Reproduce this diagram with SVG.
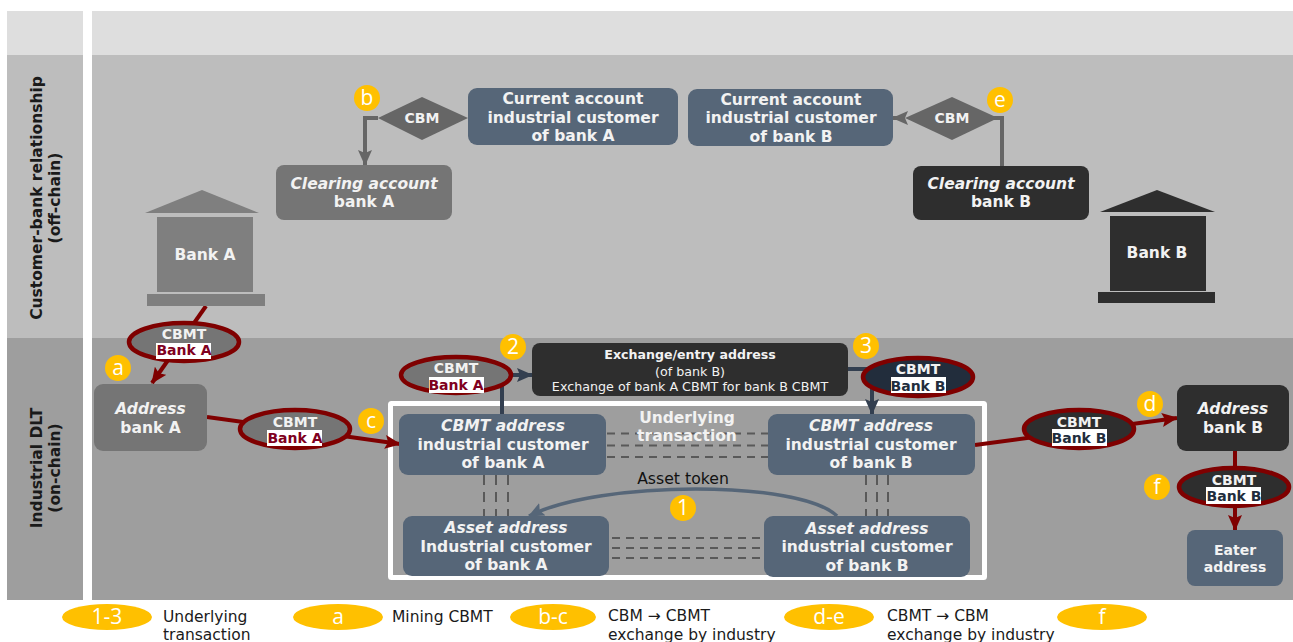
<svg xmlns="http://www.w3.org/2000/svg" width="1293" height="642" viewBox="0 0 1293 642">
<style>
text{font-family:"DejaVu Sans",Verdana,sans-serif;text-anchor:middle}
.n{font-size:15.500px;font-weight:bold;fill:#f2f2f2}
.i{font-style:italic}
.c{font-size:14px;font-weight:bold;fill:#f2f2f2}
.bt{font-size:14px;font-weight:bold}
.y{fill:#ffc000}
.yt{font-family:"Open Sans",sans-serif;font-size:21px;fill:#fff}
.lg{font-size:15.500px;fill:#1a1a1a;text-anchor:start}
.side{font-size:15.500px;font-weight:bold;fill:#1a1a1a}
.red{fill:none;stroke:#7f0000;stroke-width:4}
.dash{fill:none;stroke:#595959;stroke-width:2;stroke-dasharray:8 6}
.vdash{fill:none;stroke:#595959;stroke-width:2;stroke-dasharray:10 7}
.el{stroke:#7f0000;stroke-width:4.500}
</style>
<defs>
<marker id="ar" markerUnits="userSpaceOnUse" markerWidth="16" markerHeight="14" refX="15" refY="7" orient="auto"><path d="M0 0L16 7L0 14L3 7Z" fill="#7f0000"/></marker>
<marker id="ad" markerUnits="userSpaceOnUse" markerWidth="16" markerHeight="14" refX="15" refY="7" orient="auto"><path d="M0 0L16 7L0 14L3 7Z" fill="#333f50"/></marker>
<marker id="ag" markerUnits="userSpaceOnUse" markerWidth="16" markerHeight="14" refX="15" refY="7" orient="auto"><path d="M0 0L16 7L0 14L3 7Z" fill="#666"/></marker>
<marker id="as" markerUnits="userSpaceOnUse" markerWidth="16" markerHeight="14" refX="15" refY="7" orient="auto"><path d="M0 0L16 7L0 14L3 7Z" fill="#566678"/></marker>
</defs>
<rect width="1293" height="642" fill="#fff"/>
<g id="bands">
<rect x="7" y="11" width="76" height="44" fill="#dedede"/>
<rect x="92" y="11" width="1201" height="44" fill="#dedede"/>
<rect x="7" y="55" width="76" height="283" fill="#bdbdbd"/>
<rect x="92" y="55" width="1201" height="283" fill="#bdbdbd"/>
<rect x="7" y="338" width="76" height="262" fill="#9e9e9e"/>
<rect x="92" y="338" width="1201" height="262" fill="#9e9e9e"/>
<text transform="translate(42 198) rotate(-90)" class="side">Customer-bank relationship</text>
<text transform="translate(60 198) rotate(-90)" class="side">(off-chain)</text>
<text transform="translate(42 468) rotate(-90)" class="side">Industrial DLT</text>
<text transform="translate(60 468) rotate(-90)" class="side">(on-chain)</text>
</g>
<g id="underlying-frame"><rect x="390.500" y="403.500" width="594" height="174" fill="none" stroke="#fff" stroke-width="5" rx="1"/></g>
<g id="connectors">
<path class="dash" d="M607 433.500H768M607 445.500H768M607 457H768"/>
<path class="vdash" d="M484 475V516M496 475V516M508 475V516"/>
<path class="vdash" d="M866 475V516M877 475V516M888 475V516"/>
<path class="dash" d="M612 538H765M612 548H765M612 558H765"/>
<path d="M837 516C800 480 600 480 529 516" fill="none" stroke="#566678" stroke-width="3.500" marker-end="url(#as)"/>
<path d="M378 118H365V165" fill="none" stroke="#666" stroke-width="4" marker-end="url(#ag)"/>
<path d="M1002 166V118H990" fill="none" stroke="#666" stroke-width="4"/>
<path d="M905 118H893" fill="none" stroke="#666" stroke-width="4" marker-end="url(#ag)"/>
<path class="red" d="M206 306L152 383" marker-end="url(#ar)"/>
<path class="red" d="M207 417L400 444" marker-end="url(#ar)"/>
<path d="M502 414V375H532" fill="none" stroke="#333f50" stroke-width="4" marker-end="url(#ad)"/>
<path d="M848 369H872V414" fill="none" stroke="#333f50" stroke-width="4" marker-end="url(#ad)"/>
<path class="red" d="M975 445L1177 418" marker-end="url(#ar)"/>
<path class="red" d="M1235 450V530" marker-end="url(#ar)"/>
</g>
<g id="bank-a"><path d="M145 213L202 190L259 213Z" fill="#7f7f7f"/><rect x="157" y="217" width="96" height="75" fill="#7f7f7f"/><rect x="147" y="294" width="118" height="12" fill="#7f7f7f"/><text x="205" y="260" class="n">Bank A</text></g>
<g id="bank-b"><path d="M1100 212L1157 190L1215 212Z" fill="#2e2e2e"/><rect x="1110" y="216" width="96" height="75" fill="#2e2e2e"/><rect x="1098" y="292" width="117" height="11" fill="#2e2e2e"/><text x="1157" y="258" class="n">Bank B</text></g>
<g id="cbm-a"><path d="M378 118L422 97L468 118L422 140Z" fill="#666"/><text x="422" y="123" class="c">CBM</text></g>
<g id="cbm-b"><path d="M905 118L952 97L998 118L952 140Z" fill="#666"/><text x="952" y="123" class="c">CBM</text></g>
<g id="current-a"><rect x="468" y="88" width="210" height="57" rx="9" fill="#566678"/><text class="n" x="573" y="104">Current account</text><text class="n" x="573" y="123">industrial customer</text><text class="n" x="573" y="141">of bank A</text></g>
<g id="current-b"><rect x="688" y="89" width="205" height="57" rx="9" fill="#566678"/><text class="n" x="791" y="105">Current account</text><text class="n" x="791" y="123">industrial customer</text><text class="n" x="791" y="142">of bank B</text></g>
<g id="clearing-a"><rect x="276" y="165" width="176" height="55" rx="8" fill="#757575"/><text class="n i" x="364" y="189">Clearing account</text><text class="n" x="364" y="207">bank A</text></g>
<g id="clearing-b"><rect x="913" y="166" width="176" height="54" rx="8" fill="#2e2e2e"/><text class="n i" x="1001" y="189">Clearing account</text><text class="n" x="1001" y="207">bank B</text></g>
<g id="address-a"><rect x="94" y="384" width="113" height="67" rx="9" fill="#757575"/><text class="n i" x="150.500" y="414">Address</text><text class="n" x="150.500" y="433">bank A</text></g>
<g id="address-b"><rect x="1177" y="385" width="112" height="66" rx="9" fill="#2e2e2e"/><text class="n i" x="1233" y="414">Address</text><text class="n" x="1233" y="433">bank B</text></g>
<g id="exchange"><rect x="532" y="343" width="316" height="53" rx="8" fill="#2e2e2e"/><text x="690" y="359" style="font-size:12.600px;font-weight:bold" fill="#f2f2f2">Exchange/entry address</text><text x="690" y="376" style="font-size:12.700px" fill="#f2f2f2">(of bank B)</text><text x="690" y="391" style="font-size:12.700px" fill="#f2f2f2">Exchange of bank A CBMT for bank B CBMT</text></g>
<g id="cbmt-addr-a"><rect x="399" y="414" width="207" height="61" rx="9" fill="#566678"/><text class="n i" x="503" y="431">CBMT address</text><text class="n" x="503" y="450">industrial customer</text><text class="n" x="503" y="468">of bank A</text></g>
<g id="cbmt-addr-b"><rect x="768" y="414" width="207" height="61" rx="9" fill="#566678"/><text class="n i" x="871" y="431">CBMT address</text><text class="n" x="871" y="450">industrial customer</text><text class="n" x="871" y="468">of bank B</text></g>
<g id="asset-a"><rect x="403" y="516" width="206" height="60" rx="9" fill="#566678"/><text class="n i" x="506" y="533">Asset address</text><text class="n" x="506" y="552">Industrial customer</text><text class="n" x="506" y="570">of bank A</text></g>
<g id="asset-b"><rect x="764" y="516" width="206" height="61" rx="9" fill="#566678"/><text class="n i" x="867" y="534">Asset address</text><text class="n" x="867" y="552">industrial customer</text><text class="n" x="867" y="571">of bank B</text></g>
<g id="eater"><rect x="1187" y="530" width="96" height="56" rx="8" fill="#566678"/><text x="1235" y="555" style="font-size:14px;font-weight:bold" fill="#f2f2f2">Eater</text><text x="1235" y="572" style="font-size:14px;font-weight:bold" fill="#f2f2f2">address</text></g>
<g id="underlying-label"><text class="n" x="687" y="423">Underlying</text><text class="n" x="687" y="441">transaction</text></g>
<g id="asset-token-label"><text x="683" y="484" style="font-size:15.700px" fill="#111">Asset token</text></g>
<g id="cbmt-1"><ellipse cx="184" cy="342" rx="55" ry="19" fill="#757575" class="el"/><rect x="156" y="343" width="55" height="16" fill="#fff"/><text class="c" x="184" y="339">CBMT</text><text class="bt" x="184" y="355" fill="#7f0020">Bank A</text></g>
<g id="cbmt-2"><ellipse cx="295" cy="429" rx="55" ry="19" fill="#757575" class="el"/><rect x="267" y="430" width="55" height="16" fill="#fff"/><text class="c" x="295" y="427">CBMT</text><text class="bt" x="295" y="443" fill="#7f0020">Bank A</text></g>
<g id="cbmt-3"><ellipse cx="456" cy="375" rx="55" ry="18" fill="#757575" class="el"/><rect x="429" y="377" width="55" height="16" fill="#fff"/><text class="c" x="456" y="373">CBMT</text><text class="bt" x="456" y="390" fill="#7f0020">Bank A</text></g>
<g id="cbmt-4"><ellipse cx="918" cy="377" rx="55" ry="19" fill="#222d3c" class="el"/><rect x="891" y="377" width="55" height="16" fill="#fff"/><text class="c" x="918" y="374">CBMT</text><text class="bt" x="918" y="391" fill="#222d3c">Bank B</text></g>
<g id="cbmt-5"><ellipse cx="1079" cy="429" rx="55" ry="19" fill="#2e2e2e" class="el"/><rect x="1052" y="429" width="55" height="17" fill="#fff"/><text class="c" x="1079" y="427">CBMT</text><text class="bt" x="1079" y="443" fill="#222d3c">Bank B</text></g>
<g id="cbmt-6"><ellipse cx="1234" cy="487" rx="55" ry="19" fill="#2e2e2e" class="el"/><rect x="1206" y="487" width="55" height="17" fill="#fff"/><text class="c" x="1234" y="485">CBMT</text><text class="bt" x="1234" y="501" fill="#222d3c">Bank B</text></g>
<g id="badges">
<circle class="y" cx="367" cy="98" r="13"/><text class="yt" x="367" y="105">b</text>
<circle class="y" cx="1000" cy="100" r="13"/><text class="yt" x="1000" y="107">e</text>
<circle class="y" cx="118" cy="368" r="13"/><text class="yt" x="118" y="375">a</text>
<circle class="y" cx="371" cy="421" r="13"/><text class="yt" x="371" y="428">c</text>
<circle class="y" cx="1150" cy="404" r="13"/><text class="yt" x="1150" y="411">d</text>
<circle class="y" cx="1157" cy="487" r="13"/><text class="yt" x="1157" y="494">f</text>
<circle class="y" cx="513" cy="347" r="13"/><text class="yt" x="513" y="354">2</text>
<circle class="y" cx="866" cy="346" r="13"/><text class="yt" x="866" y="353">3</text>
<circle class="y" cx="683" cy="508" r="13"/><text class="yt" x="683" y="515">1</text>
</g>
<g id="legend">
<ellipse class="y" cx="107" cy="617" rx="45" ry="13"/><text class="yt" x="107" y="624">1-3</text>
<ellipse class="y" cx="338" cy="617" rx="45" ry="13"/><text class="yt" x="338" y="624">a</text>
<ellipse class="y" cx="553" cy="617" rx="43" ry="13"/><text class="yt" x="553" y="624">b-c</text>
<ellipse class="y" cx="829" cy="617" rx="45" ry="13"/><text class="yt" x="829" y="624">d-e</text>
<ellipse class="y" cx="1102" cy="617" rx="45" ry="13"/><text class="yt" x="1102" y="624">f</text>
<text class="lg" x="163" y="622">Underlying</text><text class="lg" x="163" y="640">transaction</text>
<text class="lg" x="392" y="622">Mining CBMT</text>
<text class="lg" x="608" y="621">CBM → CBMT</text><text class="lg" x="608" y="640">exchange by industry</text>
<text class="lg" x="887" y="621">CBMT → CBM</text><text class="lg" x="887" y="640">exchange by industry</text>
</g>
</svg>
